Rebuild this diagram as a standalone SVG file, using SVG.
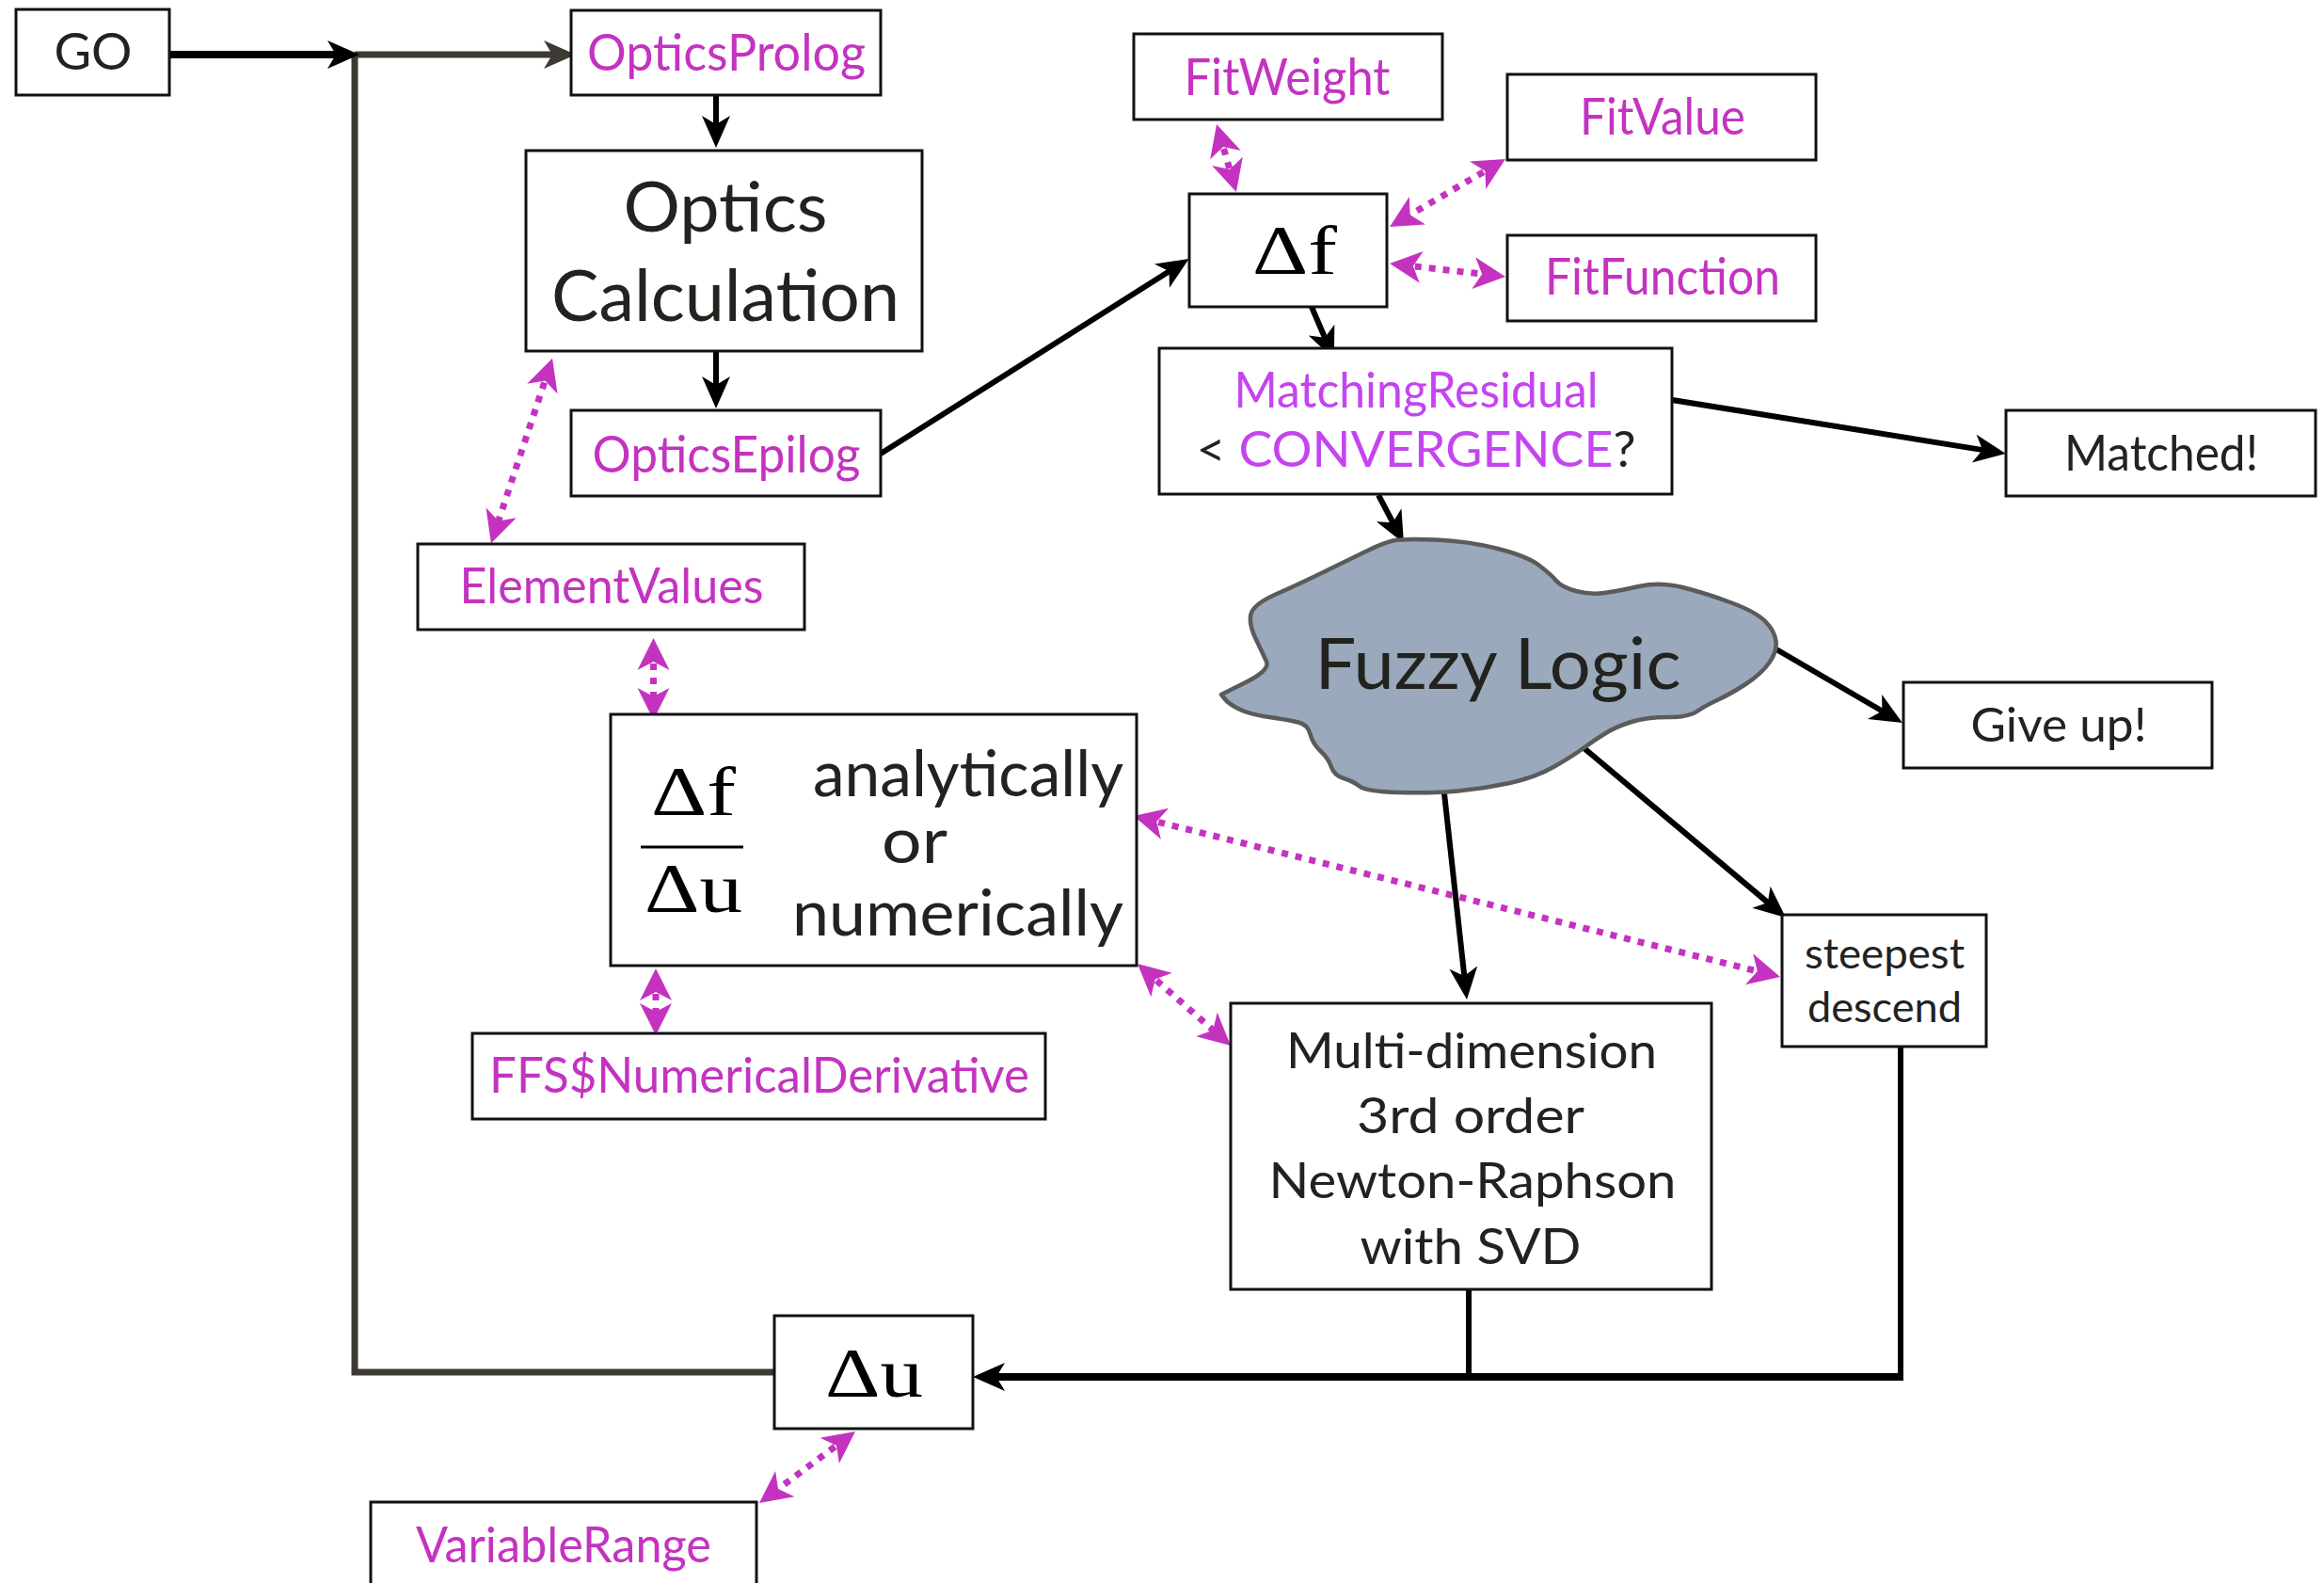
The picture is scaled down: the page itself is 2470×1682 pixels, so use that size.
<svg xmlns="http://www.w3.org/2000/svg" width="2470" height="1682" viewBox="0 0 2470 1682">
<style>
.box{fill:#fff;stroke:#111;stroke-width:3}
.t{font-family:Lato,'Liberation Sans',sans-serif;fill:#22221e;text-anchor:middle}
.m{fill:#c433c0}
.v{fill:#c445f0}
.math{font-family:'Liberation Serif','DejaVu Serif',serif;fill:#000;text-anchor:middle}
.blk{fill:none;stroke:#000;stroke-width:6}
.gry{fill:none;stroke:#3d3a33;stroke-width:7}
.dot{fill:none;stroke:#c433c0;stroke-width:7;stroke-dasharray:7 8}
</style>
<defs>
<marker id="ab" viewBox="-36 -17 38 34" refX="-15" refY="0" markerWidth="38" markerHeight="34" markerUnits="userSpaceOnUse" orient="auto"><path d="M0,0 L-34,-15 L-25,0 L-34,15 Z" fill="#000"/></marker>
<marker id="ag" viewBox="-36 -17 38 34" refX="-15" refY="0" markerWidth="38" markerHeight="34" markerUnits="userSpaceOnUse" orient="auto"><path d="M0,0 L-34,-15 L-25,0 L-34,15 Z" fill="#3d3a33"/></marker>
<marker id="am" viewBox="-36 -19 38 38" refX="-12" refY="0" markerWidth="38" markerHeight="38" markerUnits="userSpaceOnUse" orient="auto-start-reverse"><path d="M0,0 L-34,-17 L-25,0 L-34,17 Z" fill="#c433c0"/></marker>
</defs>

<g id="connectors">
<path class="gry" d="M823,1458 L377,1458 L377,58"/>
<path class="gry" d="M377,58 L597,58" marker-end="url(#ag)"/>
<path class="blk" style="stroke-width:8" d="M180,58 L367,58" marker-end="url(#ab)"/>
<path class="blk" d="M761,101 L761,142" marker-end="url(#ab)"/>
<path class="blk" d="M761,373 L761,419" marker-end="url(#ab)"/>
<path class="blk" d="M936,482 L1251,283" marker-end="url(#ab)"/>
<path class="blk" d="M1394,326 L1412,368" marker-end="url(#ab)"/>
<path class="blk" d="M1777,425 L2117,479.6" marker-end="url(#ab)"/>
<path class="blk" d="M1465,526 L1485,564" marker-end="url(#ab)"/>
<path class="blk" d="M1888,690 L2009,760.5" marker-end="url(#ab)"/>
<path class="blk" d="M1680,792 L1886.5,965.4" marker-end="url(#ab)"/>
<path class="blk" d="M1534,834 L1557.4,1047" marker-end="url(#ab)"/>
<path class="blk" d="M1561,1370 L1561,1463"/>
<path class="blk" d="M2020,1112 L2020,1463"/>
<path class="blk" style="stroke-width:8" d="M2023,1463 L1049,1463" marker-end="url(#ab)"/>
<path class="dot" d="M583.3,392.2 L525.7,565.8" marker-start="url(#am)" marker-end="url(#am)"/>
<path class="dot" d="M694.5,690 L694.5,753" marker-start="url(#am)" marker-end="url(#am)"/>
<path class="dot" d="M697,1041 L697,1088" marker-start="url(#am)" marker-end="url(#am)"/>
<path class="dot" d="M1216.6,869.9 L1880.4,1035.1" marker-start="url(#am)" marker-end="url(#am)"/>
<path class="dot" d="M1218,1031.9 L1299,1103.1" marker-start="url(#am)" marker-end="url(#am)"/>
<path class="dot" d="M1296.4,143.5 L1310.6,192.5" marker-start="url(#am)" marker-end="url(#am)"/>
<path class="dot" d="M1589.6,175.1 L1487.4,234.9" marker-start="url(#am)" marker-end="url(#am)"/>
<path class="dot" d="M1488.9,281.4 L1588.1,292.6" marker-start="url(#am)" marker-end="url(#am)"/>
<path class="dot" d="M899.4,1528.2 L816.6,1589.8" marker-start="url(#am)" marker-end="url(#am)"/>
</g>

<g id="go"><rect class="box" x="17" y="10" width="163" height="91"/><text class="t" x="99" y="74" font-size="54" textLength="83" lengthAdjust="spacingAndGlyphs">GO</text></g>
<g id="opticsprolog"><rect class="box" x="607" y="11" width="329" height="90"/><text class="t m" x="772" y="75" font-size="54" textLength="296" lengthAdjust="spacingAndGlyphs">OpticsProlog</text></g>
<g id="opticscalc"><rect class="box" x="559" y="160" width="421" height="213"/><text class="t" x="771" y="246" font-size="73" textLength="217" lengthAdjust="spacingAndGlyphs">Optics</text><text class="t" x="771" y="341" font-size="76" textLength="370" lengthAdjust="spacingAndGlyphs">Calculation</text></g>
<g id="opticsepilog"><rect class="box" x="607" y="436" width="329" height="91"/><text class="t m" x="772" y="502" font-size="54" textLength="285" lengthAdjust="spacingAndGlyphs">OpticsEpilog</text></g>
<g id="fitweight"><rect class="box" x="1205" y="36" width="328" height="91"/><text class="t m" x="1368" y="101" font-size="54" textLength="219" lengthAdjust="spacingAndGlyphs">FitWeight</text></g>
<g id="fitvalue"><rect class="box" x="1602" y="79" width="328" height="91"/><text class="t m" x="1767" y="143" font-size="54" textLength="176" lengthAdjust="spacingAndGlyphs">FitValue</text></g>
<g id="deltaf"><rect class="box" x="1264" y="206" width="210" height="120"/><text class="math" x="1376" y="291" font-size="74" textLength="90" lengthAdjust="spacingAndGlyphs">Δf</text></g>
<g id="fitfunction"><rect class="box" x="1602" y="250" width="328" height="91"/><text class="t m" x="1767" y="313" font-size="54" textLength="250" lengthAdjust="spacingAndGlyphs">FitFunction</text></g>
<g id="residual"><rect class="box" x="1232" y="370" width="545" height="155"/><text class="t v" x="1505" y="433" font-size="52" textLength="387" lengthAdjust="spacingAndGlyphs">MatchingResidual</text><text class="t" x="1505" y="496" font-size="52" textLength="467" lengthAdjust="spacingAndGlyphs">&lt; <tspan class="v">CONVERGENCE</tspan>?</text></g>
<g id="matched"><rect class="box" x="2132" y="436" width="329" height="91"/><text class="t" x="2297" y="500" font-size="52" textLength="206" lengthAdjust="spacingAndGlyphs">Matched!</text></g>
<g id="elementvalues"><rect class="box" x="444" y="578" width="411" height="91"/><text class="t m" x="650" y="641" font-size="52" textLength="323" lengthAdjust="spacingAndGlyphs">ElementValues</text></g>
<g id="derivative"><rect class="box" x="649" y="759" width="559" height="267"/>
<text class="math" x="737" y="866" font-size="74" textLength="90" lengthAdjust="spacingAndGlyphs">Δf</text>
<line x1="681" y1="900" x2="790" y2="900" stroke="#000" stroke-width="3"/>
<text class="math" x="737" y="969" font-size="74" textLength="104" lengthAdjust="spacingAndGlyphs">Δu</text>
<text class="t" x="1029" y="846" font-size="68" textLength="330" lengthAdjust="spacingAndGlyphs">analytically</text>
<text class="t" x="972" y="917" font-size="68" textLength="70" lengthAdjust="spacingAndGlyphs">or</text>
<text class="t" x="1018" y="994" font-size="68" textLength="352" lengthAdjust="spacingAndGlyphs">numerically</text></g>
<g id="ffs"><rect class="box" x="502" y="1098" width="609" height="91"/><text class="t m" x="807" y="1161" font-size="52" textLength="574" lengthAdjust="spacingAndGlyphs">FFS$NumericalDerivative</text></g>
<g id="fuzzy"><path d="M1480.5,574.5 Q1491,572 1526,573.5 Q1561,575 1592,583 Q1623,591 1635.5,600.5 Q1648,610 1654,617 Q1660,624 1675,628 Q1690,632 1705,630 Q1720,628 1742,623 Q1764,618 1788,624 Q1812,630 1839,640 Q1866,650 1876,660 Q1886,670 1887.5,681 Q1889,692 1880.5,704 Q1872,716 1856,726.5 Q1840,737 1826,743.5 Q1812,750 1803.5,756 Q1795,762 1772.5,762 Q1750,762 1734,767 Q1718,772 1706.5,779 Q1695,786 1683.5,794.5 Q1672,803 1652,814.5 Q1632,826 1604.5,832 Q1577,838 1549.5,840.5 Q1522,843 1487,842 Q1452,841 1445,835.5 Q1438,830 1428,827 Q1418,824 1415,815 Q1412,806 1403.5,798 Q1395,790 1392.5,780 Q1390,770 1380,767.5 Q1370,765 1349,762 Q1328,759 1317,753.5 Q1306,748 1302,743 L1298,738 L1324,725 Q1350,712 1346,703 Q1342,694 1334.5,678.5 Q1327,663 1329.5,652.5 Q1332,642 1357,631 Q1382,620 1409.5,606.5 Q1437,593 1453.5,585 Q1470,577 1480.5,574.5 Z" fill="#9aa9bb" stroke="#5b5b5b" stroke-width="4.5" stroke-linejoin="round"/>
<text class="t" x="1592" y="732" font-size="76" fill="#000" textLength="389" lengthAdjust="spacingAndGlyphs">Fuzzy Logic</text></g>
<g id="giveup"><rect class="box" x="2023" y="725" width="328" height="91"/><text class="t" x="2188" y="788" font-size="50" textLength="187" lengthAdjust="spacingAndGlyphs">Give up!</text></g>
<g id="steepest"><rect class="box" x="1894" y="972" width="217" height="140"/><text class="t" x="2003" y="1029" font-size="44" textLength="170" lengthAdjust="spacingAndGlyphs">steepest</text><text class="t" x="2003" y="1086" font-size="44" textLength="164" lengthAdjust="spacingAndGlyphs">descend</text></g>
<g id="newton"><rect class="box" x="1308" y="1066" width="511" height="304"/>
<text class="t" x="1564" y="1135" font-size="52" textLength="394" lengthAdjust="spacingAndGlyphs">Multi-dimension</text>
<text class="t" x="1563" y="1204" font-size="52" textLength="242" lengthAdjust="spacingAndGlyphs">3rd order</text>
<text class="t" x="1565" y="1273" font-size="52" textLength="433" lengthAdjust="spacingAndGlyphs">Newton-Raphson</text>
<text class="t" x="1563" y="1343" font-size="52" textLength="235" lengthAdjust="spacingAndGlyphs">with SVD</text></g>
<g id="deltau"><rect class="box" x="823" y="1398" width="211" height="120"/><text class="math" x="929" y="1484" font-size="74" textLength="104" lengthAdjust="spacingAndGlyphs">Δu</text></g>
<g id="variablerange"><rect class="box" x="394" y="1596" width="410" height="110"/><text class="t m" x="599" y="1660" font-size="52" textLength="314" lengthAdjust="spacingAndGlyphs">VariableRange</text></g>
</svg>
